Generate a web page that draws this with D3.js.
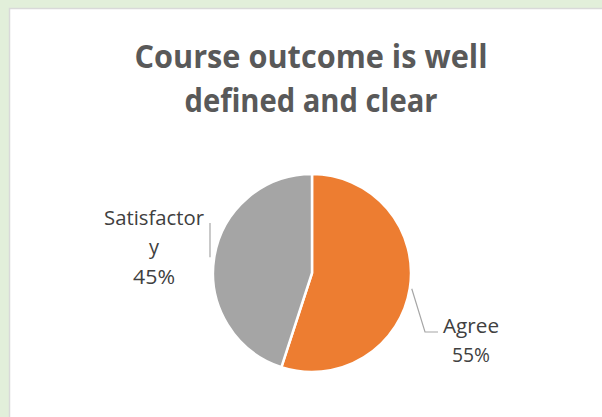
<!DOCTYPE html>
<html>
<head>
<meta charset="utf-8">
<script src="https://cdn.jsdelivr.net/npm/d3@7"></script>
<style>
  html, body { margin: 0; padding: 0; background: #e2efda; }
  svg { display: block; }
</style>
</head>
<body>
<svg id="chart" width="602" height="417"></svg>
<script>
const titleLines = ["Course outcome is well", "defined and clear"];
const categories = ["Agree", "Satisfactory"];
const values = [55, 45];
const labelLines = [["Agree", "55%"], ["Satisfactor", "y", "45%"]];
const colors = ["#ED7D31", "#A5A5A5"];

const svg = d3.select("#chart");
const W = 602, H = 417;

// background & panel
svg.append("rect").attr("x", 0).attr("y", 0).attr("width", W).attr("height", H).attr("fill", "#e2efda");
svg.append("rect").attr("x", 9.5).attr("y", 8.5).attr("width", W).attr("height", H)
  .attr("fill", "#ffffff").attr("stroke", "#d9d9d9").attr("stroke-width", 1.5);

// title
const titleFont = "'Open Sans', Lato, sans-serif";
const titleSpecs = [{y: 67.5, w: 353}, {y: 111.5, w: 253}];
titleLines.forEach((t, i) => {
  svg.append("text")
    .attr("x", 311).attr("y", titleSpecs[i].y)
    .attr("text-anchor", "middle")
    .attr("font-family", titleFont)
    .attr("font-weight", "bold")
    .attr("font-size", 32)
    .attr("fill", "#595959")
    .attr("textLength", titleSpecs[i].w)
    .attr("lengthAdjust", "spacingAndGlyphs")
    .text(t);
});

// pie
const cx = 312, cy = 273, R = 99;
const pie = d3.pie().sort(null).value(d => d)(values);
const arc = d3.arc().innerRadius(0).outerRadius(R);
const g = svg.append("g").attr("transform", `translate(${cx},${cy})`);
g.selectAll("path").data(pie).join("path")
  .attr("d", arc)
  .attr("fill", (d, i) => colors[i])
  .attr("stroke", "#ffffff")
  .attr("stroke-width", 2.5)
  .attr("stroke-linejoin", "round");

// leader lines
function edgePoint(d, r) {
  const a = (d.startAngle + d.endAngle) / 2;
  return [cx + r * Math.sin(a), cy - r * Math.cos(a)];
}
const p0 = edgePoint(pie[0], 101);
svg.append("polyline")
  .attr("points", [p0, [425, 332], [438, 332]].map(p => p.join(",")).join(" "))
  .attr("fill", "none").attr("stroke", "#a6a6a6").attr("stroke-width", 1.2);
const p1 = edgePoint(pie[1], 101);
svg.append("polyline")
  .attr("points", [[210, p1[1]], [210, 223]].map(p => p.join(",")).join(" "))
  .attr("fill", "none").attr("stroke", "#a6a6a6").attr("stroke-width", 1.2);

// data labels
const labelFont = "'Open Sans', Lato, sans-serif";
const labelSpecs = [
  {x: 471, ys: [332.7, 361.7], ws: [56, 38]},
  {x: 154, ys: [224.5, 254.4, 284.3], ws: [100, null, 42]}
];
labelLines.forEach((lines, i) => {
  lines.forEach((t, j) => {
    const tx = svg.append("text")
      .attr("x", labelSpecs[i].x).attr("y", labelSpecs[i].ys[j])
      .attr("text-anchor", "middle")
      .attr("font-family", labelFont)
      .attr("font-size", 20)
      .attr("fill", "#404040")
      .text(t);
    if (labelSpecs[i].ws[j]) tx.attr("textLength", labelSpecs[i].ws[j]).attr("lengthAdjust", "spacingAndGlyphs");
  });
});
</script>
</body>
</html>
